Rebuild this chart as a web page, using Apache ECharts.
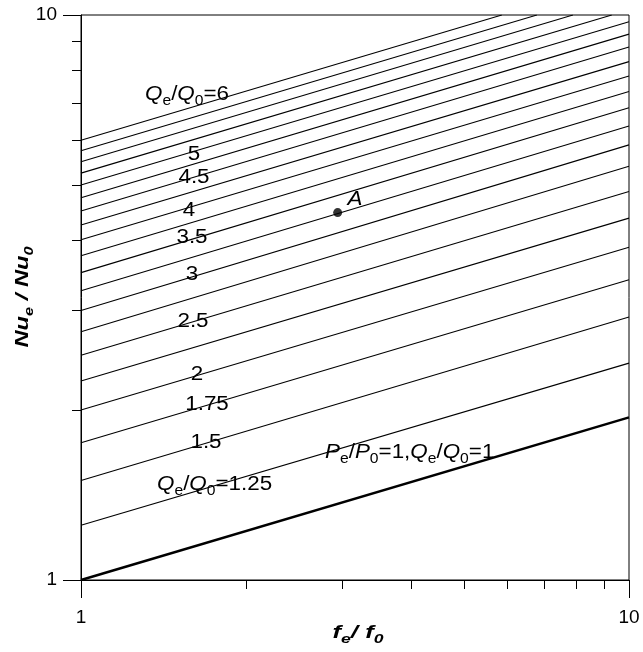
<!DOCTYPE html>
<html>
<head>
<meta charset="utf-8">
<script src="https://cdn.jsdelivr.net/npm/echarts@6/dist/echarts.min.js"></script>
<style>
  html, body { margin: 0; padding: 0; background: #fff; }
  #chart { width: 643px; height: 652px; }
</style>
</head>
<body>
<div id="chart"></div>
<script>
// Q_e/Q_0 de cada recta (valor de Nu_e/Nu_0 en f_e/f_0 = 1)
var qValues = [1, 1.25, 1.5, 1.75, 2, 2.25, 2.5, 2.75, 3, 3.25, 3.5, 3.75, 4, 4.25, 4.5, 4.75, 5, 5.25, 5.5, 5.75, 6];
// extremo derecho de cada recta (en f=10, o donde corta el borde superior)
var endF = [10, 10, 10, 10, 10, 10, 10, 10, 10, 10, 10, 10, 10, 10, 10, 10, 10, 9.30, 7.90, 6.79, 5.86];
var endNu = [1.94, 2.42, 2.92, 3.40, 3.88, 4.37, 4.87, 5.40, 5.89, 6.36, 6.85, 7.32, 7.80, 8.27, 8.78, 9.25, 9.73, 10, 10, 10, 10];
// punto A
var pointA = [2.94, 4.47];
// marcas menores de los ejes log
var minorTicks = [2, 3, 4, 5, 6, 7, 8, 9];

var FONT = 'Liberation Sans, Arial, sans-serif';

var myChart = echarts.init(document.getElementById('chart'));

// estilos de texto enriquecido (cursiva + subíndice)
var rich = {
  i: { fontFamily: FONT, fontSize: 20, fontStyle: 'italic', lineHeight: 28, color: '#000' },
  n: { fontFamily: FONT, fontSize: 20, lineHeight: 28, color: '#000' },
  s: { fontFamily: FONT, fontSize: 14, verticalAlign: 'bottom', color: '#000' }
};
var richBold = {
  b: { fontFamily: FONT, fontSize: 19, fontStyle: 'italic', fontWeight: 'bold', lineHeight: 26, color: '#000' },
  bs: { fontFamily: FONT, fontSize: 13, fontStyle: 'italic', fontWeight: 'bold', verticalAlign: 'bottom', color: '#000' }
};

function label(txt, x, y, align) {
  return {
    type: 'text', x: x, y: y, scaleX: 1.12, z: 10, silent: true,
    style: { text: txt, rich: rich, align: align || 'left', verticalAlign: 'middle' }
  };
}

var series = qValues.map(function (q, k) {
  return {
    type: 'line',
    data: [[1, q], [endF[k], endNu[k]]],
    symbol: 'none',
    showSymbol: false,
    silent: true,
    z: k === 0 ? 3 : 2,
    lineStyle: { color: '#000', width: k === 0 ? 2.5 : 1.1 }
  };
});

series.push({
  type: 'scatter',
  data: [pointA],
  symbolSize: 9,
  silent: true,
  itemStyle: { color: '#000' },
  z: 5
});

// marcas menores 2..9 en ambos ejes
series.push({
  type: 'custom',
  silent: true,
  clip: false,
  data: minorTicks.map(function (v) { return [v, 1]; }),
  renderItem: function (params, api) {
    var v = api.value(0);
    var px = api.coord([v, 1]);
    var py = api.coord([1, v]);
    var xx = Math.round(px[0]) + 0.5;
    var yy = Math.round(py[1]) + 0.5;
    return {
      type: 'group',
      children: [
        { type: 'line', shape: { x1: xx, y1: px[1], x2: xx, y2: px[1] + 9 }, style: { stroke: '#000', lineWidth: 1 } },
        { type: 'line', shape: { x1: py[0] - 9, y1: yy, x2: py[0], y2: yy }, style: { stroke: '#000', lineWidth: 1 } }
      ]
    };
  }
});

var option = {
  animation: false,
  backgroundColor: '#fff',
  grid: { left: 81, right: 14, top: 15, bottom: 72, show: true, borderColor: '#000', borderWidth: 1 },
  xAxis: {
    type: 'log', logBase: 10, min: 1, max: 10,
    axisLine: { onZero: false, lineStyle: { color: '#000', width: 1 } },
    axisTick: { length: 18, lineStyle: { color: '#000' } },
    minorTick: { show: false },
    splitLine: { show: false },
    axisLabel: { margin: 28, fontSize: 19, color: '#000', fontFamily: FONT }
  },
  yAxis: {
    type: 'log', logBase: 10, min: 1, max: 10,
    axisLine: { onZero: false, lineStyle: { color: '#000', width: 1 } },
    axisTick: { length: 18, lineStyle: { color: '#000' } },
    minorTick: { show: false },
    splitLine: { show: false },
    axisLabel: { margin: 24, fontSize: 19, color: '#000', fontFamily: FONT }
  },
  graphic: [
    label('{i|Q}{s|e}{n|/}{i|Q}{s|0}{n|=6}', 145, 94),
    label('{n|5}', 194, 154, 'center'),
    label('{n|4.5}', 194, 177, 'center'),
    label('{n|4}', 189, 210, 'center'),
    label('{n|3.5}', 192, 237, 'center'),
    label('{n|3}', 192, 274, 'center'),
    label('{n|2.5}', 193, 321, 'center'),
    label('{n|2}', 197, 374, 'center'),
    label('{n|1.75}', 207, 404, 'center'),
    label('{n|1.5}', 206, 442, 'center'),
    label('{i|Q}{s|e}{n|/}{i|Q}{s|0}{n|=1.25}', 157, 484),
    label('{i|P}{s|e}{n|/}{i|P}{s|0}{n|=1,}{i|Q}{s|e}{n|/}{i|Q}{s|0}{n|=1}', 325, 452),
    label('{i|A}', 355, 199, 'center'),
    {
      type: 'text', x: 23, y: 297, rotation: Math.PI / 2, scaleX: 1.25, silent: true,
      style: { text: '{b|Nu}{bs|e}{b| / Nu}{bs|0}', rich: richBold, align: 'center', verticalAlign: 'middle' }
    },
    {
      type: 'text', x: 358, y: 633, scaleX: 1.35, silent: true,
      style: { text: '{b|f}{bs|e}{b|/ f}{bs|0}', rich: richBold, align: 'center', verticalAlign: 'middle' }
    }
  ],
  series: series
};

myChart.setOption(option);
</script>
</body>
</html>
